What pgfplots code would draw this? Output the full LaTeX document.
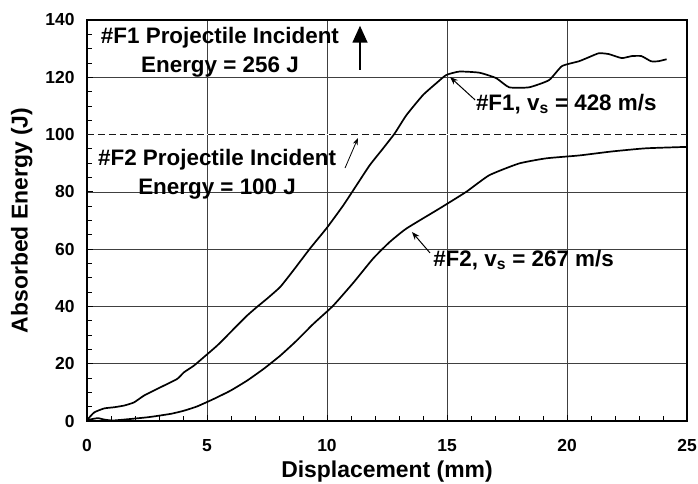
\documentclass[border=0pt]{standalone}
\usepackage{fontspec}
\setmainfont{Liberation Sans}
\usepackage{pgfplots}
\pgfplotsset{compat=1.18}
\usetikzlibrary{arrows.meta}
\begin{document}
\begin{tikzpicture}
\begin{axis}[
  scale only axis, width=600bp, height=401bp,
  xmin=0, xmax=25, ymin=0, ymax=140,
  xtick={0,5,...,25}, ytick={0,20,...,140},
  minor x tick num=4, minor y tick num=3,
  tick pos=left, tick align=inside,
  major tick length=6bp, minor tick length=5bp,
  grid=major, major grid style={line width=0.7bp, black!75},
  axis line style={line width=1.1bp},
  tick style={line width=0.8bp, black},
  /pgf/number format/assume math mode=true,
  tick label style={font=\fontsize{17.5}{20}\selectfont\bfseries},
  xticklabel style={yshift=-15bp},
  yticklabel style={xshift=-9bp},
  xlabel={Displacement (mm)}, ylabel={Absorbed Energy (J)},
  label style={font=\fontsize{23}{27}\selectfont\bfseries},
  xlabel style={at={(axis description cs:0.5,-0.09)}, anchor=north},
  ylabel style={at={(axis description cs:-0.085,0.5)}, anchor=south},
  clip=false,
]
\addplot[white, line width=1.6bp] coordinates {(0,100) (25,100)};
\addplot[black!90, line width=1.4bp, dash pattern=on 7bp off 4bp] coordinates {(0,100) (25,100)};
\addplot[black, line width=1.7bp, smooth, tension=0.3] coordinates {
(0,0.3) (0.3,3.0) (0.72,4.4) (1.13,4.8) (1.55,5.4) (1.96,6.5) (2.38,8.9) (3.07,11.8)
(3.76,14.7) (4.04,17.0) (4.45,19.3) (4.87,22.3) (5.42,26.3) (5.84,29.8) (6.25,33.3)
(6.67,36.8) (7.08,39.8) (7.5,42.7) (8.05,46.8) (8.6,52.6) (9.29,60.2) (10.0,67.5)
(10.68,75.3) (11.23,82.3) (11.78,89.3) (12.34,95.2) (12.82,100.4) (13.31,106.8)
(14.0,113.8) (14.55,117.9) (14.97,120.8) (15.52,122.0) (16.35,121.6) (17.05,119.7)
(17.59,116.5) (18.42,116.5) (19.25,119) (19.79,123.9) (20.5,125.6) (20.91,127)
(21.33,128.4) (21.74,128.1) (22.28,126.7) (22.7,127.4) (23.1,127.4) (23.5,125.6)
(23.8,125.6) (24.15,126.3)};
\addplot[black, line width=1.7bp, smooth, tension=0.3] coordinates {
(0,0.3) (0.44,1.0) (0.72,0.5) (1.13,0.2) (2.52,1.3) (3.49,2.5) (4.04,3.6) (4.59,5.1)
(5.28,7.7) (5.98,10.6) (6.67,14.1) (7.36,18.2) (8.05,22.8) (8.74,28.1) (9.43,33.9)
(10.25,40.2) (11.1,48.3) (11.92,56.7) (12.6,62.4) (13.31,67.2) (14.69,74.2) (15.8,80)
(16.76,85.8) (18.0,89.9) (19.13,91.7) (20.5,92.7) (21.87,94.1) (23.28,95.2) (25,95.7)};
\node[align=center, font=\fontsize{22.5}{29}\selectfont\bfseries] at (axis cs:5.54,128.8) {\#F1 Projectile Incident\\Energy = 256 J};
\node[align=center, font=\fontsize{22.5}{29}\selectfont\bfseries] at (axis cs:5.42,86.2) {\#F2 Projectile Incident\\Energy = 100 J};
\draw[line width=1.6bp, -{Triangle[width=15bp,length=17bp]}] (axis cs:11.375,122.6) -- (axis cs:11.375,138);
\draw[line width=0.8bp, -{Stealth[length=7bp,width=5bp]}] (axis cs:10.75,88.3) -- (axis cs:11.29,98.8);
\draw[line width=1bp, -{Stealth[length=8bp,width=6bp]}] (axis cs:16.17,112.1) -- (axis cs:15.125,120.1);
\draw[line width=1bp, -{Stealth[length=8bp,width=6bp]}] (axis cs:14.29,58.7) -- (axis cs:13.54,66.0);
\node[anchor=west, inner sep=0pt, font=\fontsize{22.5}{25}\selectfont\bfseries] at (axis cs:16.2,110.5) {\#F1, v\textsubscript{s} = 428 m/s};
\node[anchor=west, inner sep=0pt, font=\fontsize{22.5}{25}\selectfont\bfseries] at (axis cs:14.42,56.2) {\#F2, v\textsubscript{s} = 267 m/s};
\end{axis}
\pgfresetboundingbox
\path[use as bounding box] (-87bp,-63bp) rectangle (611bp,421bp);
\end{tikzpicture}
\end{document}
